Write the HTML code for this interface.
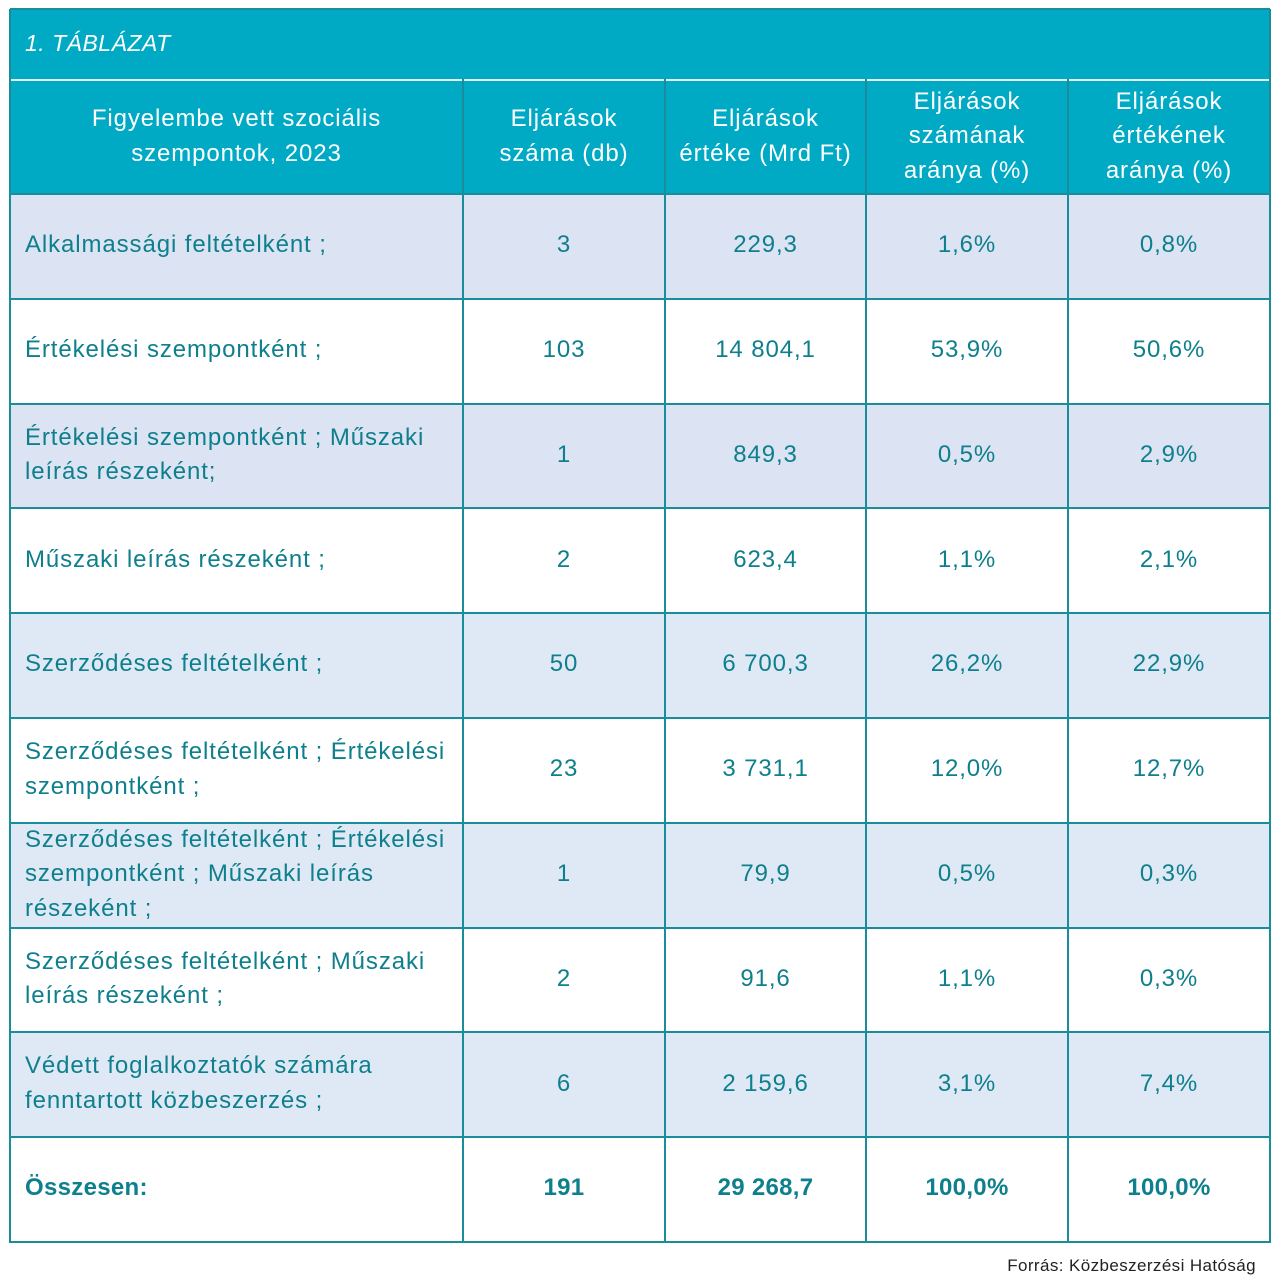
<!DOCTYPE html>
<html><head><meta charset="utf-8"><style>
body{margin:0;width:1280px;height:1285px;background:#fff;font-family:"Liberation Sans",sans-serif;position:relative;overflow:hidden}
.c{position:absolute;box-sizing:border-box;display:flex;align-items:center;justify-content:center;text-align:center;color:#0e7f8c;font-size:24px;letter-spacing:0.9px;line-height:34.5px;padding-bottom:2px}
.l{justify-content:flex-start;text-align:left;padding-left:15px}
.h{color:#fff;background:#00aac5}
.b{font-weight:bold;letter-spacing:0.3px}
.vl{position:absolute;width:2px;background:#1a8d9c}
.hl{position:absolute;height:2px;left:10px;width:1260px;background:#1a8d9c}
</style></head><body>
<div class="c h l" style="left:10px;top:9px;width:1260px;height:70px;font-style:italic;font-size:23px;letter-spacing:0.5px">1. TÁBLÁZAT</div>
<div style="position:absolute;left:10px;top:79px;width:1260px;height:115px;background:#00aac5"></div>
<div style="position:absolute;left:10px;top:79px;width:1260px;height:2px;background:#e6f6f9"></div>
<div class="c h" style="left:10px;top:81px;width:453px;height:113px">Figyelembe vett szociális<br>szempontok, 2023</div>
<div class="c h" style="left:463px;top:81px;width:202px;height:113px">Eljárások<br>száma (db)</div>
<div class="c h" style="left:665px;top:81px;width:201px;height:113px">Eljárások<br>értéke (Mrd Ft)</div>
<div class="c h" style="left:866px;top:81px;width:202px;height:113px">Eljárások<br>számának<br>aránya (%)</div>
<div class="c h" style="left:1068px;top:81px;width:202px;height:113px">Eljárások<br>értékének<br>aránya (%)</div>
<div id="rows"></div>
<script>
var d=[["Alkalmassági feltételként ;","3","229,3","1,6%","0,8%","#dce3f3"],
["Értékelési szempontként ;","103","14 804,1","53,9%","50,6%","#fff"],
["Értékelési szempontként ; Műszaki<br>leírás részeként;","1","849,3","0,5%","2,9%","#dce3f3"],
["Műszaki leírás részeként ;","2","623,4","1,1%","2,1%","#fff"],
["Szerződéses feltételként ;","50","6 700,3","26,2%","22,9%","#dfe9f5"],
["Szerződéses feltételként ; Értékelési<br>szempontként ;","23","3 731,1","12,0%","12,7%","#fff"],
["Szerződéses feltételként ; Értékelési<br>szempontként ; Műszaki leírás<br>részeként ;","1","79,9","0,5%","0,3%","#dfe9f5"],
["Szerződéses feltételként ; Műszaki<br>leírás részeként ;","2","91,6","1,1%","0,3%","#fff"],
["Védett foglalkoztatók számára<br>fenntartott közbeszerzés ;","6","2 159,6","3,1%","7,4%","#dfe9f5"],
["Összesen:","191","29 268,7","100,0%","100,0%","#fff"]];
var xs=[10,463,665,866,1068,1270],h="";
for(var i=0;i<d.length;i++){var y=194+i*104.8,b=i==9?" b":"";
h+='<div style="position:absolute;left:10px;top:'+y+'px;width:1260px;height:105px;background:'+d[i][5]+'"></div>';
for(var j=0;j<5;j++)h+='<div class="c'+(j==0?' l':'')+b+'" style="left:'+xs[j]+'px;top:'+y+'px;width:'+(xs[j+1]-xs[j])+'px;height:105px">'+d[i][j]+'</div>';
h+='<div class="hl" style="top:'+(y-1)+'px"></div>';}
h+='<div class="hl" style="top:1241px"></div>';
for(var j=1;j<5;j++)h+='<div class="vl" style="left:'+(xs[j]-1)+'px;top:79px;height:1164px"></div>';
h+='<div class="vl" style="left:9px;top:9px;height:1234px"></div><div class="vl" style="left:1269px;top:9px;height:1234px"></div><div class="hl" style="top:8px"></div>';
document.getElementById('rows').innerHTML=h;
</script>
<div style="position:absolute;right:24px;top:1256px;font-size:17px;letter-spacing:0.4px;color:#222">Forrás: Közbeszerzési Hatóság</div>
</body></html>
